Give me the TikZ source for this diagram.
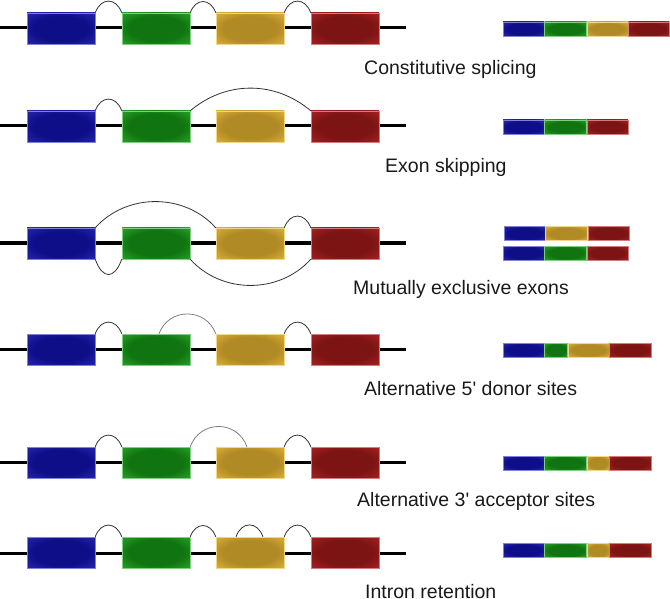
\documentclass[tikz,border=0pt]{standalone}
\usepackage{fontspec}
\setmainfont{Liberation Sans}[Ligatures=TeXOff]
\usepackage{tikz}

\definecolor{blueout}{HTML}{2C2CBA}
\definecolor{bluein}{HTML}{0E0E88}
\definecolor{greenout}{HTML}{2CAE2C}
\definecolor{greenin}{HTML}{107410}
\definecolor{yelout}{HTML}{E8BA3C}
\definecolor{yelin}{HTML}{B08A24}
\definecolor{redout}{HTML}{B42424}
\definecolor{redin}{HTML}{7C1414}

\pgfdeclareradialshading{blueglow}{\pgfpointorigin}{color(0bp)=(bluein); color(20bp)=(bluein); color(40bp)=(blueout); color(50bp)=(blueout)}
\pgfdeclareradialshading{greenglow}{\pgfpointorigin}{color(0bp)=(greenin); color(20bp)=(greenin); color(40bp)=(greenout); color(50bp)=(greenout)}
\pgfdeclareradialshading{yelglow}{\pgfpointorigin}{color(0bp)=(yelin); color(20bp)=(yelin); color(40bp)=(yelout); color(50bp)=(yelout)}
\pgfdeclareradialshading{redglow}{\pgfpointorigin}{color(0bp)=(redin); color(20bp)=(redin); color(40bp)=(redout); color(50bp)=(redout)}

\tikzset{
  exon/.style={minimum width=68pt, minimum height=31pt, inner sep=0pt, line width=0.5pt},
  piece/.style={minimum height=14pt, inner sep=0pt, anchor=west, line width=0.4pt},
  bl/.style={shading=blueglow, draw=blueout!60!white},
  gr/.style={shading=greenglow, draw=greenout!60!white},
  ye/.style={shading=yelglow, draw=yelout!60!white},
  rd/.style={shading=redglow, draw=redout!60!white},
  backbone/.style={line width=3pt},
  splice/.style={draw=black!80, line width=0.8pt},
  altsplice/.style={draw=black!50, line width=0.8pt},
  kind/.style={anchor=base west, text=black!90, font=\fontsize{19.5}{23}\selectfont, inner sep=0pt}
}

\begin{document}
\begin{tikzpicture}[x=1pt, y=-1pt]
   \useasboundingbox (0,0) rectangle (670,599);
   % constitutive splicing
   \begin{scope}[yshift=-28pt]
    \coordinate (s1) at (0,0);
    \coordinate (e1) at (406,0);
    \draw[backbone] (s1) -- (e1);
    \node[exon,bl] (b1) at (61,0.5) {};
    \node[exon,gr] (g1) at (156,0.5) {};
    \node[exon,ye] (y1) at (250,0.5) {};
    \node[exon,rd] (r1) at (345,0.5) {};
    \draw[splice] (b1.north east) to[out=70,in=110,looseness=1.6] (g1.north west);
    \draw[splice] (g1.north east) to[out=70,in=110,looseness=1.6] (y1.north west);
    \draw[splice] (y1.north east) to[out=70,in=110,looseness=1.6] (r1.north west);
    \node[kind] (t1) at (364,47) {Constitutive splicing};
    \node[piece,bl,minimum width=41pt] (m1a) at (503,1) {};
    \node[piece,gr,minimum width=42pt] (m1b) at (m1a.east) {};
    \node[piece,ye,minimum width=41pt] (m1c) at (m1b.east) {};
    \node[piece,rd,minimum width=41pt] (m1d) at (m1c.east) {};
   \end{scope}
   % exon skipping
   \begin{scope}[yshift=-126pt]
    \coordinate (s2) at (0,0);
    \coordinate (e2) at (406,0);
    \draw[backbone] (s2) -- (e2);
    \node[exon,bl] (b2) at (61,0.5) {};
    \node[exon,gr] (g2) at (156,0.5) {};
    \node[exon,ye] (y2) at (250,0.5) {};
    \node[exon,rd] (r2) at (345,0.5) {};
    \draw[splice] (b2.north east) to[out=70,in=110,looseness=1.6] (g2.north west);
    \draw[splice] (g2.north east) to[out=40,in=140] (r2.north west);
    \node[kind] (t2) at (385,47) {Exon skipping};
    \node[piece,bl,minimum width=41pt] (m2a) at (503,1) {};
    \node[piece,gr,minimum width=42pt] (m2b) at (m2a.east) {};
    \node[piece,rd,minimum width=41pt] (m2c) at (m2b.east) {};
   \end{scope}
   % mutually exclusive exons
   \begin{scope}[yshift=-243pt]
    \coordinate (s3) at (0,0);
    \coordinate (e3) at (406,0);
    \draw[backbone] (s3) -- (e3);
    \node[exon,bl] (b3) at (61,0.5) {};
    \node[exon,gr] (g3) at (156,0.5) {};
    \node[exon,ye] (y3) at (250,0.5) {};
    \node[exon,rd] (r3) at (345,0.5) {};
    \draw[splice] (b3.north east) to[out=48,in=132] (y3.north west);
    \draw[splice] (y3.north east) to[out=70,in=110,looseness=1.6] (r3.north west);
    \draw[splice] (b3.south east) to[out=-70,in=-110,looseness=2.1] (g3.south west);
    \draw[splice] (g3.south east) to[out=-48,in=-132] (r3.south west);
    \node[kind] (t3) at (353,51) {Mutually exclusive exons};
    \node[piece,bl,minimum width=41pt] (m3a) at (504,-9.5) {};
    \node[piece,ye,minimum width=42pt] (m3b) at (m3a.east) {};
    \node[piece,rd,minimum width=41pt] (m3c) at (m3b.east) {};
    \node[piece,bl,minimum width=41pt] (m3d) at (503,10) {};
    \node[piece,gr,minimum width=42pt] (m3e) at (m3d.east) {};
    \node[piece,rd,minimum width=41pt] (m3f) at (m3e.east) {};
   \end{scope}
   % alternative 5' donor sites
   \begin{scope}[yshift=-349pt]
    \coordinate (s4) at (0,0);
    \coordinate (e4) at (406,0);
    \draw[backbone] (s4) -- (e4);
    \node[exon,bl] (b4) at (61,0.5) {};
    \node[exon,gr] (g4) at (156,0.5) {};
    \node[exon,ye] (y4) at (250,0.5) {};
    \node[exon,rd] (r4) at (345,0.5) {};
    \draw[splice] (b4.north east) to[out=70,in=110,looseness=1.6] (g4.north west);
    \draw[altsplice] ([xshift=3pt]g4.north) to[out=70,in=110,looseness=1.27] (y4.north west);
    \draw[splice] (y4.north east) to[out=70,in=110,looseness=1.6] (r4.north west);
    \node[kind] (t4) at (364,46) {Alternative 5' donor sites};
    \node[piece,bl,minimum width=41pt] (m4a) at (503,1) {};
    \node[piece,gr,minimum width=23pt] (m4b) at (m4a.east) {};
    \node[piece,ye,minimum width=41pt] (m4c) at (m4b.east) {};
    \node[piece,rd,minimum width=42pt] (m4d) at (m4c.east) {};
   \end{scope}
   % alternative 3' acceptor sites
   \begin{scope}[yshift=-462pt]
    \coordinate (s5) at (0,0);
    \coordinate (e5) at (406,0);
    \draw[backbone] (s5) -- (e5);
    \node[exon,bl] (b5) at (61,0.5) {};
    \node[exon,gr] (g5) at (156,0.5) {};
    \node[exon,ye] (y5) at (250,0.5) {};
    \node[exon,rd] (r5) at (345,0.5) {};
    \draw[splice] (b5.north east) to[out=70,in=110,looseness=1.6] (g5.north west);
    \draw[altsplice] (g5.north east) to[out=70,in=110,looseness=1.3] ([xshift=-3pt]y5.north);
    \draw[splice] (y5.north east) to[out=70,in=110,looseness=1.6] (r5.north west);
    \node[kind] (t5) at (357,44) {Alternative 3' acceptor sites};
    \node[piece,bl,minimum width=41pt] (m5a) at (503,1) {};
    \node[piece,gr,minimum width=42pt] (m5b) at (m5a.east) {};
    \node[piece,ye,minimum width=22pt] (m5c) at (m5b.east) {};
    \node[piece,rd,minimum width=42pt] (m5d) at (m5c.east) {};
   \end{scope}
   % intron retention
   \begin{scope}[yshift=-553pt]
    \coordinate (s6) at (0,0);
    \coordinate (e6) at (406,0);
    \draw[backbone] (s6) -- (e6);
    \node[exon,bl] (b6) at (61,-0.5) {};
    \node[exon,gr] (g6) at (156,-0.5) {};
    \node[exon,ye] (y6) at (250,-0.5) {};
    \node[exon,rd] (r6) at (345,-0.5) {};
    \draw[splice] (b6.north east) to[out=70,in=110,looseness=1.6] (g6.north west);
    \draw[splice] (g6.north east) to[out=70,in=110,looseness=1.6] (y6.north west);
    \draw[splice] ([xshift=-14pt]y6.north) to[out=70,in=110,looseness=1.6] ([xshift=13pt]y6.north);
    \draw[splice] (y6.north east) to[out=70,in=110,looseness=1.6] (r6.north west);
    \node[kind] (t6) at (365,45) {Intron retention};
    \node[piece,bl,minimum width=41pt] (m6a) at (503,-2.5) {};
    \node[piece,gr,minimum width=42pt] (m6b) at (m6a.east) {};
    \node[piece,ye,minimum width=22pt] (m6c) at (m6b.east) {};
    \node[piece,rd,minimum width=42pt] (m6d) at (m6c.east) {};
   \end{scope}
\end{tikzpicture}
\end{document}
